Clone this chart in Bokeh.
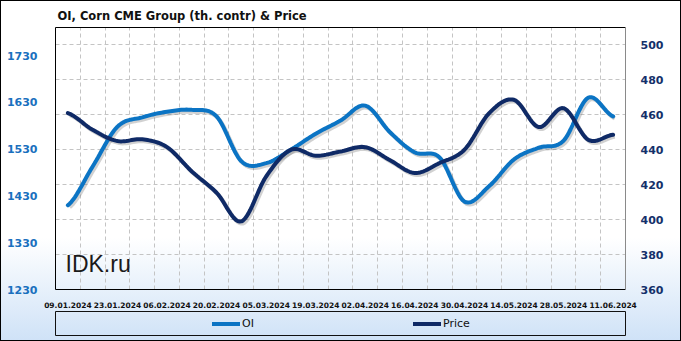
import numpy as np
from bokeh.plotting import figure
from bokeh.layouts import column
from bokeh.models import (Range1d, LinearAxis, FixedTicker, Label,
                          Legend, LegendItem, Grid)
from bokeh.embed import file_html
from bokeh.resources import INLINE

# ---------------- data ----------------
dates = ["09.01.2024", "16.01.2024", "23.01.2024", "30.01.2024", "06.02.2024",
         "13.02.2024", "20.02.2024", "27.02.2024", "05.03.2024", "12.03.2024",
         "19.03.2024", "26.03.2024", "02.04.2024", "09.04.2024", "16.04.2024",
         "23.04.2024", "30.04.2024", "07.05.2024", "14.05.2024", "21.05.2024",
         "28.05.2024", "04.06.2024", "11.06.2024"]
oi = [1410, 1493, 1578, 1598, 1610, 1614, 1600, 1504, 1500, 1529, 1563, 1591,
      1623, 1566, 1523, 1512, 1418, 1451, 1508, 1533, 1548, 1640, 1600]
price = [461.0, 451.4, 445.0, 446.0, 441.5, 427.6, 415.4, 399.0, 424.7, 440.0,
         436.6, 439.0, 441.5, 434.0, 426.7, 432.4, 440.0, 461.0, 468.6, 453.0,
         463.8, 445.7, 448.6]
oi_ticks = [1230, 1330, 1430, 1530, 1630, 1730]
price_ticks = [360, 380, 400, 420, 440, 460, 480, 500]

OI_COLOR = "#0b74c4"
PRICE_COLOR = "#0f2a66"


def smooth(xs, ys, n=14):
    xs = np.asarray(xs, float)
    ys = np.asarray(ys, float)
    px = np.concatenate([[2 * xs[0] - xs[1]], xs, [2 * xs[-1] - xs[-2]]])
    py = np.concatenate([[ys[0]], ys, [ys[-1]]])
    ox, oy = [], []
    t = np.linspace(0, 1, n, endpoint=False)
    for i in range(1, len(px) - 2):
        p0x, p1x, p2x, p3x = px[i - 1:i + 3]
        p0y, p1y, p2y, p3y = py[i - 1:i + 3]
        c1x, c1y = p1x + (p2x - p0x) / 6, p1y + (p2y - p0y) / 6
        c2x, c2y = p2x - (p3x - p1x) / 6, p2y - (p3y - p1y) / 6
        bx = (1 - t) ** 3 * p1x + 3 * (1 - t) ** 2 * t * c1x + 3 * (1 - t) * t ** 2 * c2x + t ** 3 * p2x
        by = (1 - t) ** 3 * p1y + 3 * (1 - t) ** 2 * t * c1y + 3 * (1 - t) * t ** 2 * c2y + t ** 3 * p2y
        ox.extend(bx)
        oy.extend(by)
    ox.append(xs[-1])
    oy.append(ys[-1])
    return np.array(ox), np.array(oy)


idx = list(range(len(dates)))

p = figure(width=681, height=310, output_backend="svg", toolbar_location=None,
           x_range=Range1d(-0.5, len(dates) - 0.5), y_range=Range1d(1230, 1790),
           min_border_left=53, min_border_right=55, min_border_top=27,
           min_border_bottom=20, background_fill_alpha=0,
           border_fill_alpha=0, outline_line_color=None)
p.extra_y_ranges = {"price": Range1d(360, 510)}

# axes
p.xaxis.ticker = FixedTicker(ticks=idx[::2])
p.xaxis.major_label_overrides = {i: dates[i] for i in idx[::2]}
p.xaxis.major_label_text_font = "DejaVu Sans"
p.xaxis.major_label_text_font_style = "bold"
p.xaxis.major_label_text_font_size = "7.5px"
p.xaxis.major_label_text_color = "#111111"
p.xaxis.major_label_standoff = 6
p.xaxis.major_tick_line_color = None
p.xaxis.minor_tick_line_color = None
p.xaxis.axis_line_color = "black"

p.yaxis.ticker = FixedTicker(ticks=oi_ticks)
p.yaxis.major_label_text_font = "DejaVu Sans"
p.yaxis.major_label_text_font_style = "bold"
p.yaxis.major_label_text_font_size = "11px"
p.yaxis.major_label_text_color = "#1a70be"
p.yaxis.major_label_standoff = 12
p.yaxis.major_tick_line_color = None
p.yaxis.minor_tick_line_color = None
p.yaxis.axis_line_color = "black"

raxis = LinearAxis(y_range_name="price", ticker=FixedTicker(ticks=price_ticks),
                   major_label_text_font="DejaVu Sans", major_label_text_font_style="bold",
                   major_label_text_font_size="11px", major_label_text_color="#14306a",
                   major_label_standoff=9, major_tick_line_color=None,
                   minor_tick_line_color=None, axis_line_color="#8a8a8a")
p.add_layout(raxis, "right")

taxis = LinearAxis(ticker=FixedTicker(ticks=[]), major_tick_line_color=None,
                   minor_tick_line_color=None, axis_line_color="black",
                   major_label_text_font_size="0px")
p.add_layout(taxis, "above")

# grids
p.xgrid.ticker = FixedTicker(ticks=[i + 0.5 for i in idx[:-1]])
p.xgrid.grid_line_color = "#c4c4c4"
p.xgrid.grid_line_dash = "4 3"
p.ygrid.visible = False
pg = Grid(dimension=1, ticker=FixedTicker(ticks=price_ticks[1:]), y_range_name="price",
          grid_line_color="#c4c4c4", grid_line_dash="4 3")
p.add_layout(pg, "center")

# title
p.title.text = "OI,  Corn CME  Group  (th. contr) & Price"
p.title.text_font = "DejaVu Sans"
p.title.text_font_style = "bold"
p.title.text_font_size = "11.5px"
p.title.text_color = "#111111"
p.title.align = "left"
p.title.offset = 2

# watermark
p.add_layout(Label(x=10, y=13, x_units="screen", y_units="screen", text="IDK.ru",
                   text_font="Liberation Sans", text_font_size="23px",
                   text_color="#1a1a1a"))

# lines with soft shadow
sx, sy = smooth(idx, oi)
px_, py_ = smooth(idx, price)
p.line(sx + 0.07, sy - 4.3, line_color="#7a7a7a", line_alpha=0.35, line_width=4)
p.line(px_ + 0.07, py_ - 1.15, line_color="#7a7a7a", line_alpha=0.35, line_width=4,
       y_range_name="price")
r_oi = p.line(sx, sy, line_color=OI_COLOR, line_width=4, line_cap="round")
r_pr = p.line(px_, py_, line_color=PRICE_COLOR, line_width=4, line_cap="round",
              y_range_name="price")

# legend panel (separate small figure below the chart); its ranges keep the
# series themselves out of view, only the legend swatches are shown
p2 = figure(width=681, height=31, output_backend="svg", toolbar_location=None,
            x_range=Range1d(0, 1), y_range=Range1d(0, 1),
            x_axis_location=None, y_axis_location=None,
            min_border_left=55, min_border_right=56, min_border_top=1,
            min_border_bottom=6, background_fill_alpha=0, border_fill_alpha=0,
            outline_line_color="#111111")
p2.xgrid.visible = False
p2.ygrid.visible = False
l_oi = p2.line(idx, oi, line_color=OI_COLOR, line_width=4, line_cap="round")
l_pr = p2.line(idx, price, line_color=PRICE_COLOR, line_width=4, line_cap="round")
legend = Legend(items=[LegendItem(label="OI", renderers=[l_oi]),
                       LegendItem(label="Price", renderers=[l_pr])],
                orientation="horizontal", location="left",
                glyph_width=28, glyph_height=12, label_standoff=2, label_width=171,
                spacing=0, padding=0, margin=157,
                background_fill_alpha=0, border_line_color=None,
                label_text_font="DejaVu Sans", label_text_font_size="11px",
                label_text_color="#111111")
p2.add_layout(legend, "center")

layout = column(p, p2, spacing=0,
                styles={"background": "linear-gradient(to bottom, #ffffff 0px, #ffffff 238px, #cfe2f7 341px)",
                        "outline": "1px solid black", "outline-offset": "-1px"})

open("out.html", "w").write(file_html(layout, INLINE))
